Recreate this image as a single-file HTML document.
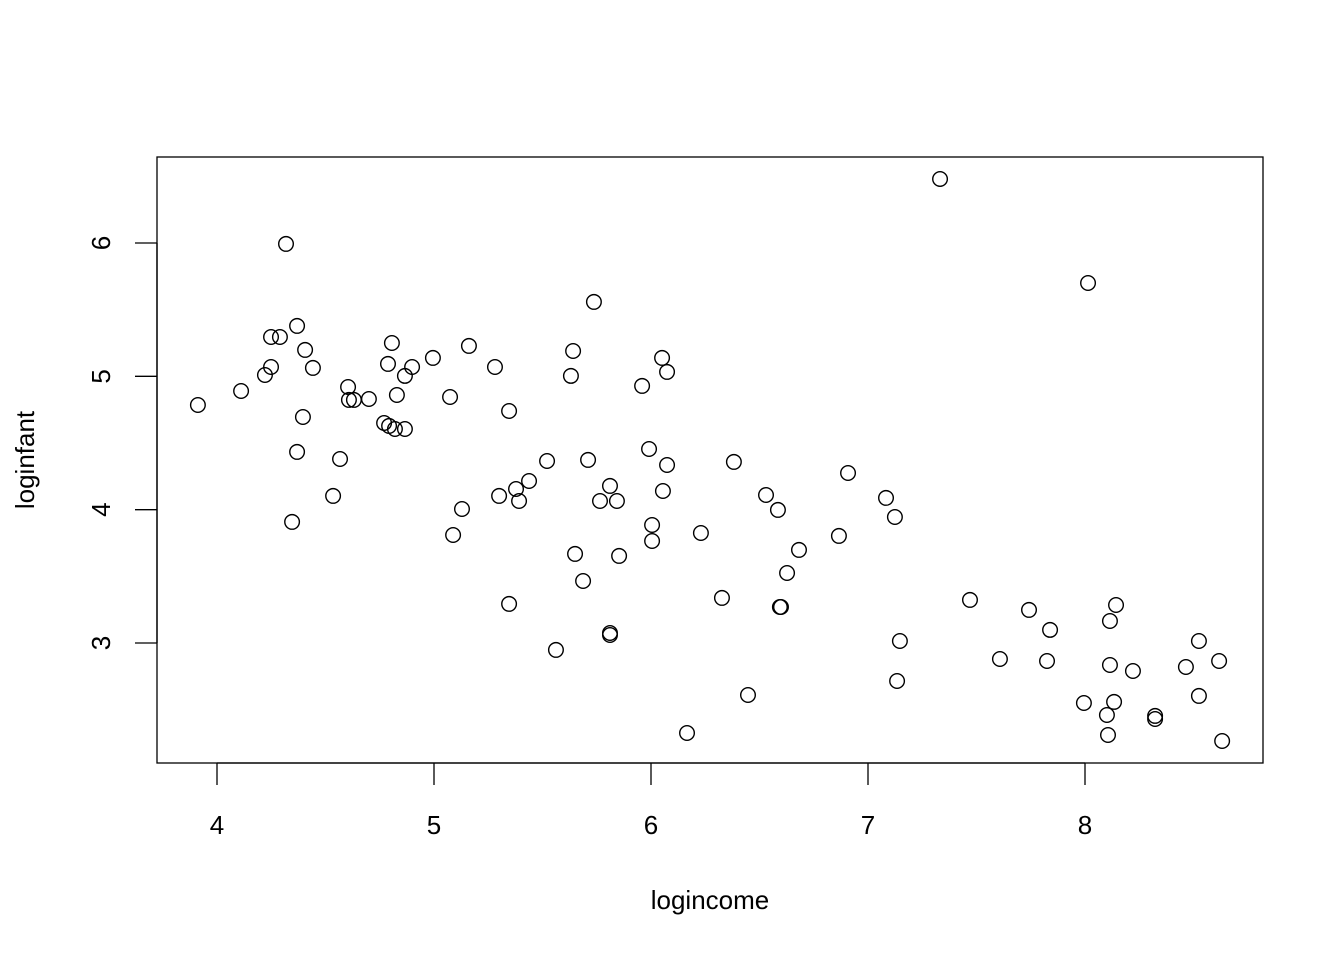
<!DOCTYPE html>
<html><head><meta charset="utf-8"><style>
html,body{margin:0;padding:0;background:#fff;}
svg text{font-family:"Liberation Sans",Arial,sans-serif;font-size:26px;fill:#000;}
</style></head><body>
<svg id="chart" width="1344" height="960" viewBox="0 0 1344 960" xmlns="http://www.w3.org/2000/svg">
<rect x="157" y="157" width="1106" height="606" fill="none" stroke="#000" stroke-width="1.3"/>
<g id="xaxis"></g>
<g id="yaxis"></g>
<g id="points"></g>
<text x="710" y="909" text-anchor="middle">logincome</text>
<text transform="translate(34,460) rotate(-90)" text-anchor="middle">loginfant</text>
</svg>
<script>
const xTicks=[4,5,6,7,8];
const yTicks=[3,4,5,6];
const logincome=[3.912,4.111,4.221,4.249,4.290,4.249,4.318,4.369,4.406,4.442,4.396,4.369,4.346,4.567,4.535,4.604,4.608,4.631,4.700,4.770,4.793,4.820,4.866,4.788,4.806,4.829,4.866,4.899,4.995,5.074,5.161,5.088,5.129,5.281,5.346,5.300,5.378,5.392,5.438,5.346,5.521,5.562,5.631,5.641,5.737,5.710,5.650,5.687,5.765,5.811,5.843,5.853,5.811,5.811,5.959,5.991,6.005,6.005,6.051,6.074,6.074,6.055,6.166,6.230,6.327,6.382,6.447,6.530,6.585,6.627,6.682,6.594,6.599,6.866,6.908,7.083,7.124,7.147,7.134,7.332,7.470,7.608,7.742,7.839,7.825,8.014,7.995,8.101,8.106,8.115,8.115,8.134,8.143,8.221,8.323,8.323,8.465,8.525,8.525,8.618,8.632];
const loginfant=[4.785,4.890,5.010,5.295,5.295,5.070,5.993,5.378,5.198,5.063,4.695,4.433,3.908,4.380,4.103,4.920,4.823,4.823,4.830,4.650,4.628,4.605,4.605,5.093,5.250,4.860,5.003,5.070,5.138,4.845,5.228,3.810,4.005,5.070,4.740,4.103,4.155,4.065,4.215,3.293,4.365,2.948,5.003,5.190,5.558,4.373,3.668,3.465,4.065,4.178,4.065,3.653,3.075,3.060,4.928,4.455,3.885,3.765,5.138,5.033,4.335,4.140,2.325,3.825,3.338,4.358,2.610,4.110,3.998,3.525,3.698,3.270,3.270,3.803,4.275,4.088,3.945,3.015,2.715,6.480,3.323,2.880,3.248,3.098,2.865,5.700,2.550,2.460,2.310,3.165,2.835,2.558,3.285,2.790,2.453,2.430,2.820,3.015,2.603,2.865,2.265];
const NS='http://www.w3.org/2000/svg';
function sx(v){return 217+(v-4)*217;}
function sy(v){return 643-(v-3)*133.333;}
function mk(tag,attrs,parent){const e=document.createElementNS(NS,tag);for(const k in attrs)e.setAttribute(k,attrs[k]);parent.appendChild(e);return e;}
const xa=document.getElementById('xaxis'),ya=document.getElementById('yaxis'),pg=document.getElementById('points');
mk('line',{x1:sx(xTicks[0]),x2:sx(xTicks[xTicks.length-1]),y1:763,y2:763,stroke:'#000','stroke-width':1.3},xa);
xTicks.forEach(t=>{
  const l=mk('line',{x1:sx(t),x2:sx(t),y1:763,y2:785,stroke:'#000','stroke-width':1.3},xa);
  
  
  const tx=mk('text',{x:sx(t),y:834,'text-anchor':'middle'},xa);tx.textContent=t;
  
  
});
mk('line',{x1:157,x2:157,y1:sy(yTicks[0]),y2:sy(yTicks[yTicks.length-1]),stroke:'#000','stroke-width':1.3},ya);
yTicks.forEach(t=>{
  const l=mk('line',{x1:135,x2:157,y1:sy(t),y2:sy(t),stroke:'#000','stroke-width':1.3},ya);
  
  
  const tx=mk('text',{transform:'translate(110,'+sy(t)+') rotate(-90)','text-anchor':'middle'},ya);tx.textContent=t;
  
  
});
logincome.forEach((v,i)=>{
  const c=mk('circle',{cx:sx(v),cy:sy(loginfant[i]),r:7.3,fill:'none',stroke:'#000','stroke-width':1.4},pg);
  
  
});
</script>
</body></html>
